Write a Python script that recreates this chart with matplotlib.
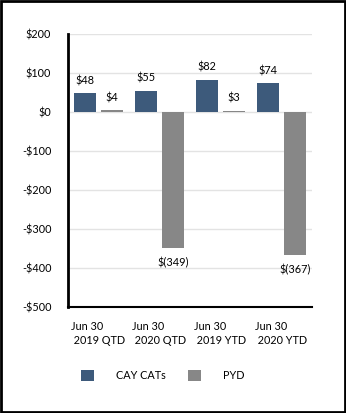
import numpy as np
import matplotlib.pyplot as plt
from matplotlib.patches import Patch, Rectangle

periods = ["Jun 30\n 2019 QTD", "Jun 30\n 2020 QTD", "Jun 30\n 2019 YTD", "Jun 30\n 2020 YTD"]
cay_cats = [48, 55, 82, 74]
pyd = [4, -349, 3, -367]

yticks = [200, 100, 0, -100, -200, -300, -400, -500]

blue = "#3d5a7b"
grey = "#878787"

plt.rcParams['font.family'] = ['Lato', 'DejaVu Sans']

fig = plt.figure(figsize=(3.46, 4.13), dpi=100)
ax = fig.add_axes([0.1965, 0.2567, 0.705, 0.661])

x = np.arange(len(periods))
w = 0.36
off = 0.22
ax.bar(x - off, cay_cats, w, color=blue, zorder=3)
ax.bar(x + off, pyd, w, color=grey, zorder=3)

def money(v):
    return f"${v}" if v >= 0 else f"$({-v})"

for xi, v in zip(x - off, cay_cats):
    ax.text(xi, v + 18, money(v), ha='center', va='bottom', fontsize=7.8)
for xi, v in zip(x + off, pyd):
    if v >= 0:
        ax.text(xi, v + 18, money(v), ha='center', va='bottom', fontsize=7.8)
    else:
        ax.text(xi, v - 22, money(v), ha='center', va='top', fontsize=7.8)

ax.set_xlim(-0.5, 3.5)
ax.set_ylim(-500, 200)
ax.set_yticks(yticks)
ax.set_yticklabels([f"${t}" if t >= 0 else f"-${-t}" for t in yticks])
ax.set_xticks(x)
ax.set_xticklabels(periods, multialignment='left', linespacing=1.35)
ax.tick_params(axis='both', length=0, labelsize=7.8)
ax.tick_params(axis='y', pad=12)
ax.tick_params(axis='x', pad=10)

for t in yticks[:-1]:
    ax.axhline(t, color='#e3e3e3', lw=1, zorder=1)

for s in ['top', 'right']:
    ax.spines[s].set_visible(False)
ax.spines['left'].set_linewidth(2)
ax.spines['bottom'].set_linewidth(1.5)
ax.spines['left'].set_color('black')
ax.spines['bottom'].set_color('black')

handles = [Patch(facecolor=blue, label='CAY CATs'), Patch(facecolor=grey, label='PYD')]
fig.legend(handles=handles, loc='center', bbox_to_anchor=(0.47, 0.09), ncol=2,
           frameon=False, fontsize=7.8, handlelength=1.2, handleheight=1.2,
           handletextpad=2.0, columnspacing=2.1)

fig.patches.append(Rectangle((0.003, 0.003), 0.994, 0.994, transform=fig.transFigure,
                             fill=False, edgecolor='black', lw=2))

fig.savefig("out.png", dpi=100)
